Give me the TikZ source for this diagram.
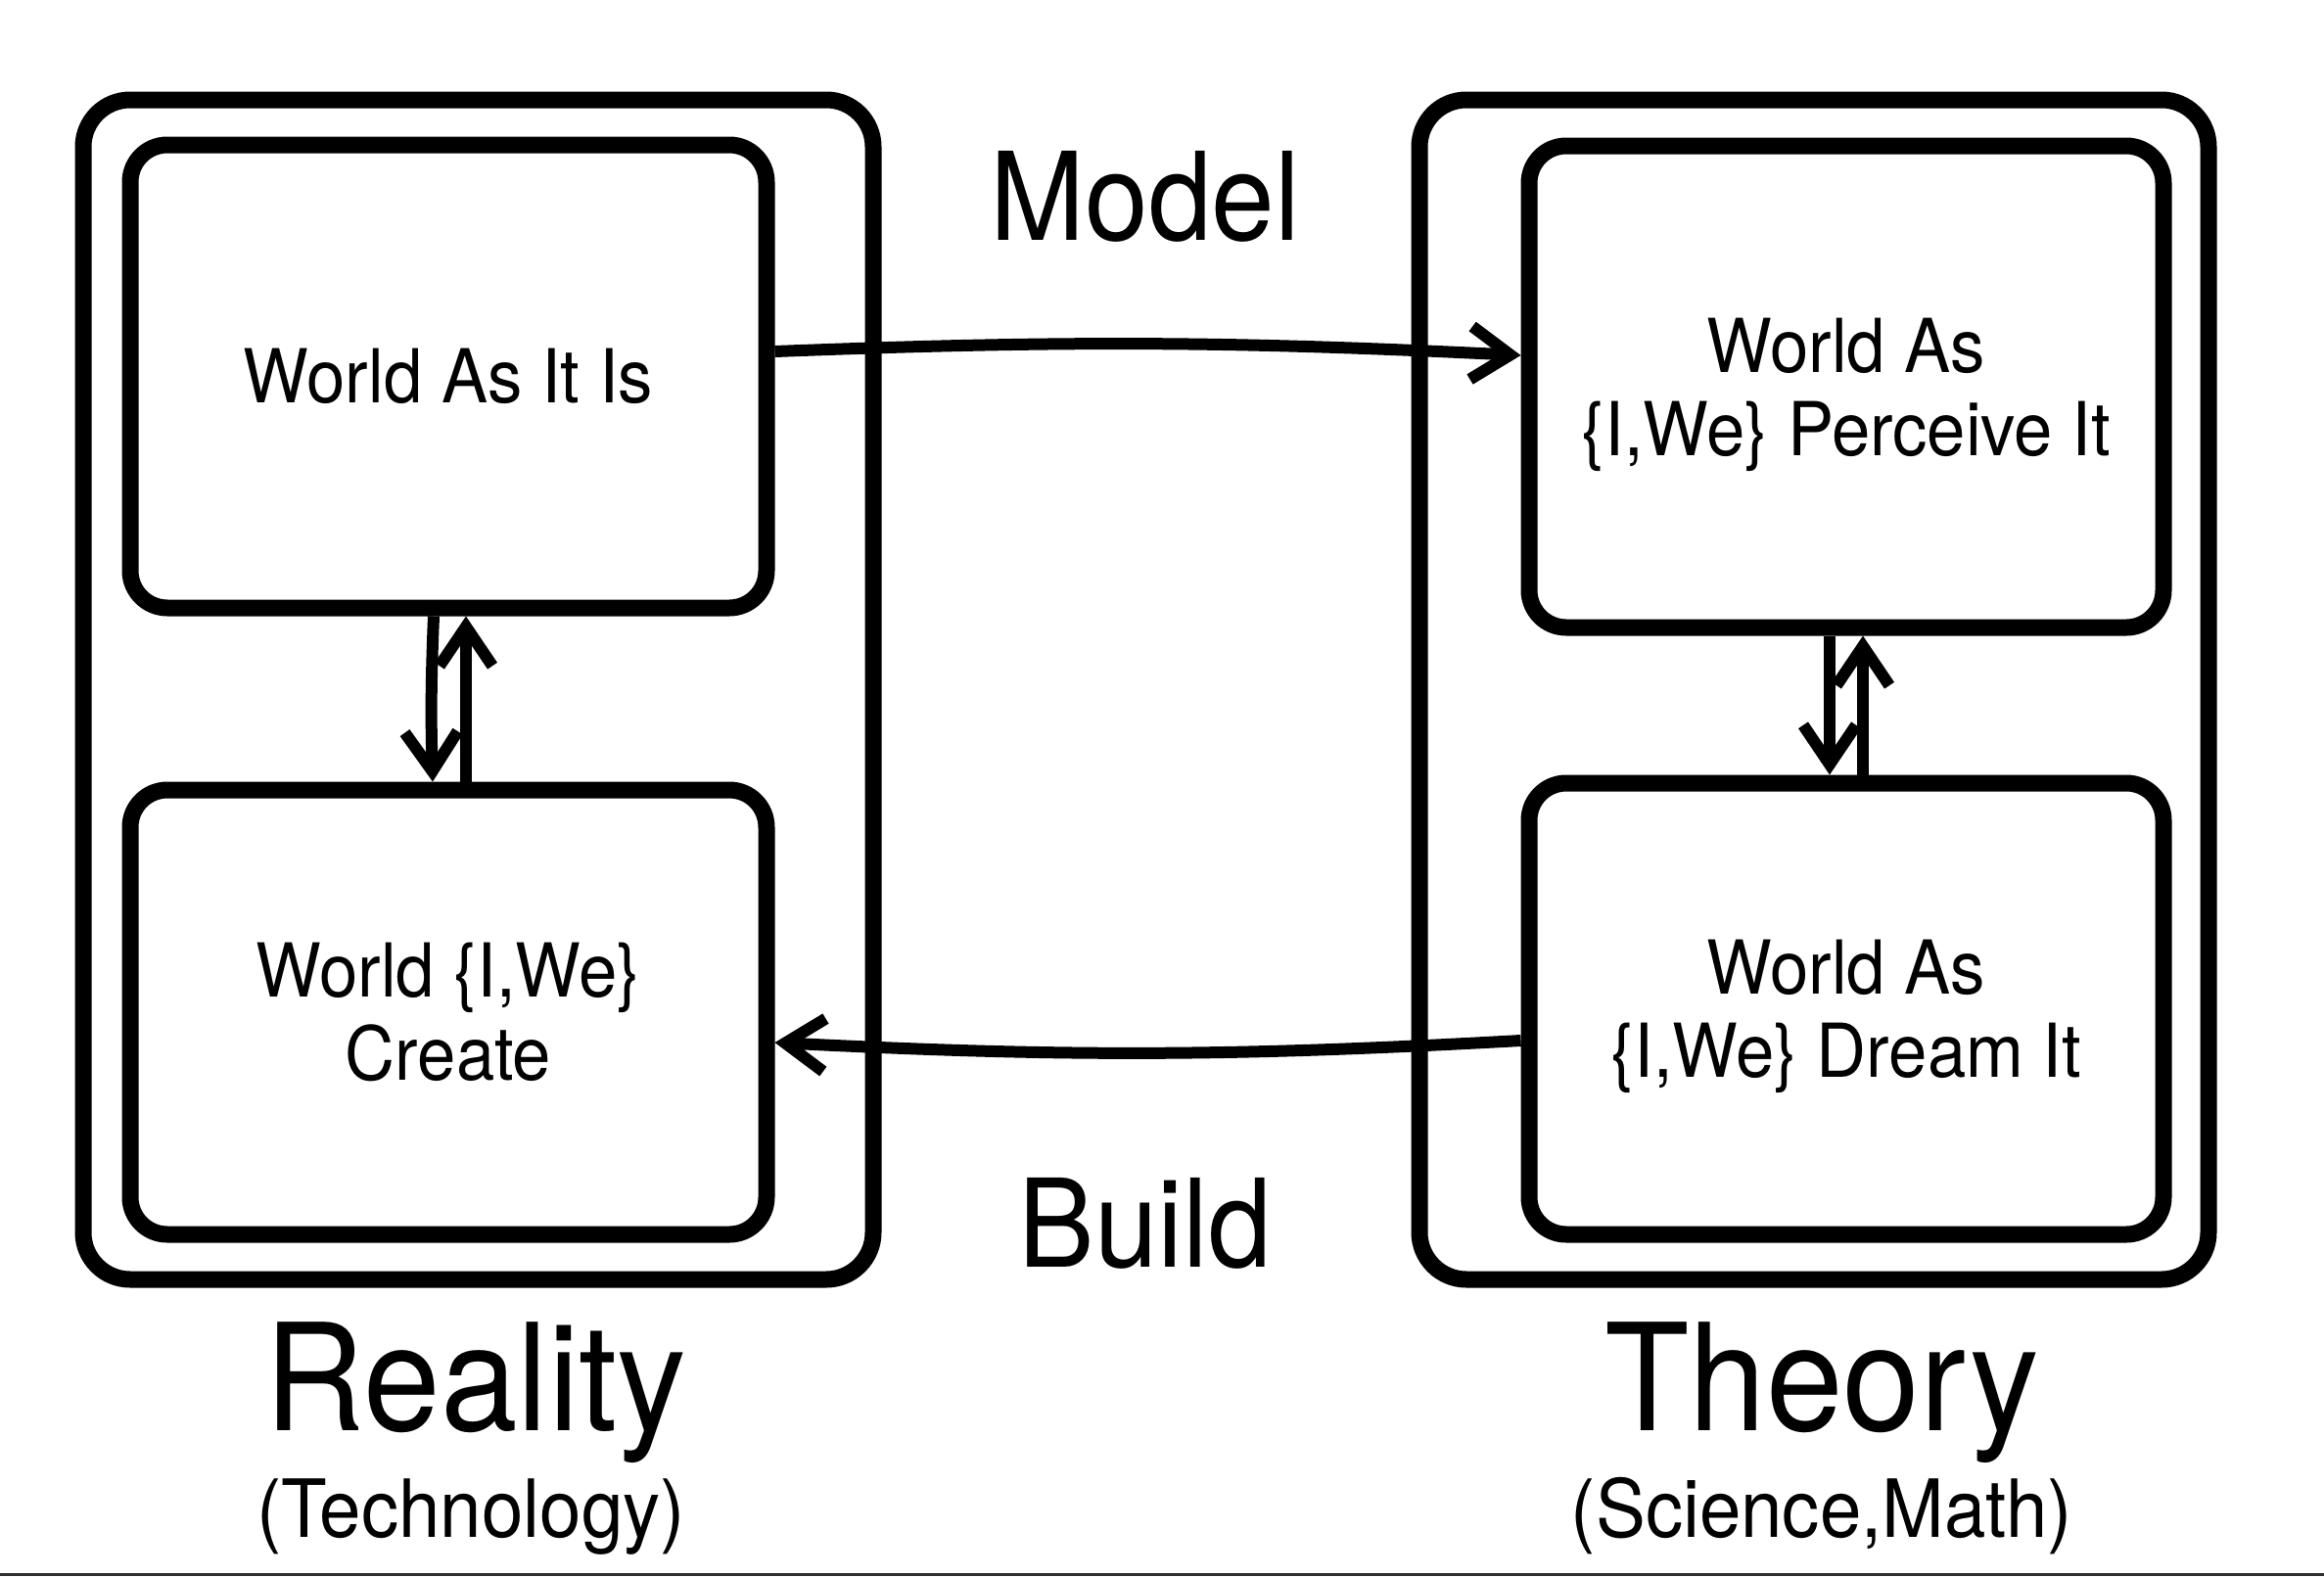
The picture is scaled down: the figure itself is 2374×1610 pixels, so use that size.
\documentclass[tikz,border=0pt]{standalone}
\usepackage{fontspec}
\setmainfont[FakeStretch=0.93]{TeX Gyre Heros}
\usetikzlibrary{arrows.meta}
\tikzset{
  outerbox/.style={draw, line width=17pt, rounded corners=48pt, inner sep=0pt},
  innerbox/.style={draw, line width=17pt, rounded corners=38pt, inner sep=0pt,
    align=center, font=\fontsize{76}{85}\selectfont},
  conn/.style={line width=12pt,
    -{Straight Barb[length=40pt,width=54pt,line cap=butt,line join=miter]}},
  biglabel/.style={font=\fontsize{152}{160}\selectfont, anchor=base, inner sep=0pt},
  midlabel/.style={font=\fontsize{125}{130}\selectfont, anchor=base, inner sep=0pt},
  sublabel/.style={font=\fontsize{82}{90}\selectfont, anchor=base, inner sep=0pt},
}
\begin{document}
\begin{tikzpicture}[x=1pt,y=-1pt]
\useasboundingbox (0,0) rectangle (2374,1610);
\fill[black!82] (0,1607) rectangle (2374,1610);
% outer frames
\node[outerbox, minimum width=807pt, minimum height=1205pt] (reality) at (488.5,704.5) {};
\node[outerbox, minimum width=806pt, minimum height=1205pt] (theory) at (1853,704.5) {};
% inner boxes
\node[innerbox, minimum width=650pt, minimum height=473pt] (isw) at (458,384.5) {World As It Is};
\node[innerbox, minimum width=650pt, minimum height=454pt] (create) at (458,1034) {World \{I,We\}\\Create};
\node[innerbox, text depth=0pt, minimum width=648pt, minimum height=492pt] (perceive) at (1886,395) {World As\\\{I,We\} Perceive It};
\node[innerbox, text depth=0pt, minimum width=648pt, minimum height=461pt] (dream) at (1886,1030.5) {World As\\\{I,We\} Dream It};
% labels
\node[midlabel] (model) at (1170,245) {Model};
\node[midlabel] (build) at (1170,1294) {Build};
\node[biglabel] (realitylbl) at (486,1461) {Reality};
\node[biglabel] (theorylbl) at (1861,1461) {Theory};
\node[sublabel] (tech) at (481,1570) {(Technology)};
\node[sublabel] (sci) at (1861,1570) {(Science,Math)};
% connectors
\draw[conn] ([yshift=25.5pt]isw.east) to[bend left=2.5] ([yshift=32pt]perceive.west);
\draw[conn] ([yshift=-32.5pt]dream.west) to[bend left=3] ([yshift=-31pt]create.east);
\draw[conn] ([xshift=-15pt]isw.south) to[bend right=2] ([xshift=-16pt]create.north);
\draw[conn] ([xshift=18pt]create.north) -- ([xshift=18pt]isw.south);
\draw[conn] ([xshift=-17pt]perceive.south) -- ([xshift=-17pt]dream.north);
\draw[conn] ([xshift=17pt]dream.north) -- ([xshift=17pt]perceive.south);
\end{tikzpicture}
\end{document}
